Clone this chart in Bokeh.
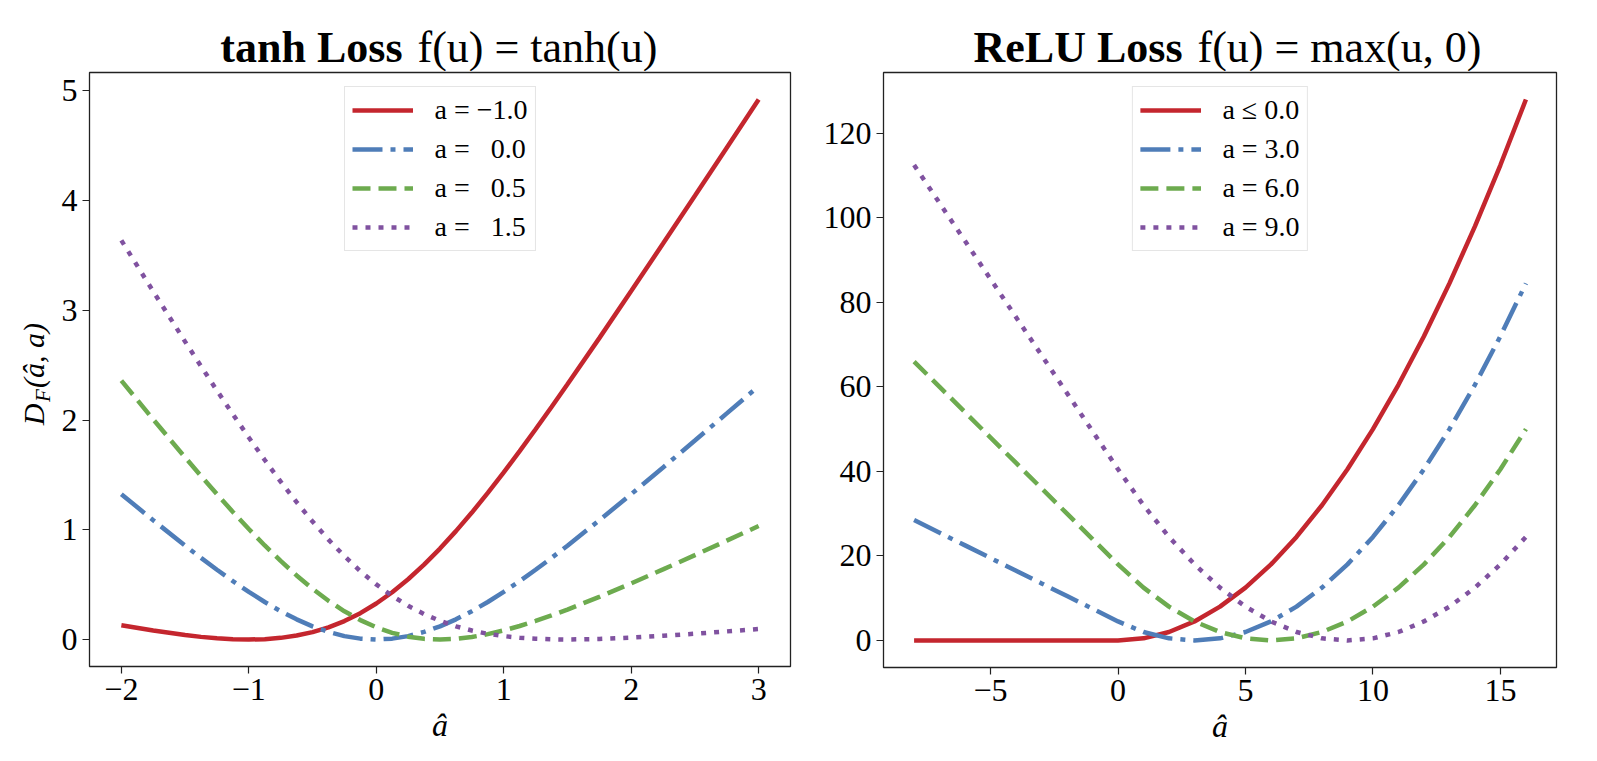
from bokeh.plotting import figure
from bokeh.layouts import row, column
from bokeh.models import Range1d, Label, FixedTicker, CustomJSTickFormatter
from bokeh.embed import file_html
from bokeh.resources import INLINE

FONT = "Liberation Serif"

# ---------------- data ----------------
tanh_x = [-2.0, -1.75, -1.5, -1.375, -1.25, -1.125, -1.0, -0.875, -0.75, -0.625, -0.5,
          -0.375, -0.25, -0.125, 0.0, 0.125, 0.25, 0.375, 0.5, 0.625, 0.75, 0.875, 1.0,
          1.125, 1.25, 1.375, 1.5, 1.75, 2.0, 2.25, 2.5, 2.75, 3.0]
tanh_a_m1 = [0.130, 0.082, 0.041, 0.024, 0.012, 0.003, 0.000, 0.003, 0.015, 0.036, 0.067,
             0.111, 0.168, 0.240, 0.328, 0.431, 0.549, 0.682, 0.829, 0.988, 1.157, 1.336,
             1.523, 1.717, 1.916, 2.119, 2.326, 2.747, 3.176, 3.609, 4.045, 4.483, 4.922]
tanh_a_0 = [1.325, 1.087, 0.855, 0.744, 0.636, 0.532, 0.434, 0.342, 0.258, 0.184, 0.120,
            0.069, 0.031, 0.008, 0.000, 0.008, 0.031, 0.069, 0.120, 0.184, 0.258, 0.342,
            0.434, 0.532, 0.636, 0.744, 0.855, 1.087, 1.325, 1.568, 1.814, 2.061, 2.309]
tanh_a_05 = [2.360, 2.006, 1.660, 1.490, 1.324, 1.163, 1.007, 0.857, 0.716, 0.584, 0.462,
             0.353, 0.257, 0.177, 0.111, 0.061, 0.026, 0.006, 0.000, 0.006, 0.023, 0.049,
             0.083, 0.123, 0.169, 0.219, 0.273, 0.389, 0.512, 0.639, 0.769, 0.901, 1.034]
tanh_a_15 = [3.638, 3.173, 2.715, 2.491, 2.269, 2.053, 1.841, 1.636, 1.439, 1.252, 1.075,
             0.910, 0.760, 0.623, 0.502, 0.397, 0.307, 0.232, 0.170, 0.120, 0.082, 0.052,
             0.031, 0.016, 0.007, 0.002, 0.000, 0.005, 0.017, 0.034, 0.053, 0.074, 0.096]
tanh_labels = ["a = \u22121.0", "a = \u20070.0", "a = \u20070.5", "a = \u20071.5"]

relu_x = [-8, -7, -6, -5, -4, -3, -2, -1, 0, 1, 2, 3, 4, 5, 6, 7, 8, 9, 10, 11, 12,
          13, 14, 15, 16]
relu_a0 = [0, 0, 0, 0, 0, 0, 0, 0, 0, 0.5, 2, 4.5, 8, 12.5, 18, 24.5, 32, 40.5, 50,
           60.5, 72, 84.5, 98, 112.5, 128]
relu_a3 = [28.5, 25.5, 22.5, 19.5, 16.5, 13.5, 10.5, 7.5, 4.5, 2, 0.5, 0, 0.5, 2, 4.5,
           8, 12.5, 18, 24.5, 32, 40.5, 50, 60.5, 72, 84.5]
relu_a6 = [66, 60, 54, 48, 42, 36, 30, 24, 18, 12.5, 8, 4.5, 2, 0.5, 0, 0.5, 2, 4.5, 8,
           12.5, 18, 24.5, 32, 40.5, 50]
relu_a9 = [112.5, 103.5, 94.5, 85.5, 76.5, 67.5, 58.5, 49.5, 40.5, 32, 24.5, 18, 12.5,
           8, 4.5, 2, 0.5, 0, 0.5, 2, 4.5, 8, 12.5, 18, 24.5]
relu_labels = ["a \u2264 0.0", "a = 3.0", "a = 6.0", "a = 9.0"]

tanh_xticks = [-2, -1, 0, 1, 2, 3]
tanh_yticks = [0, 1, 2, 3, 4, 5]
relu_xticks = [-5, 0, 5, 10, 15]
relu_yticks = [0, 20, 40, 60, 80, 100, 120]

titles = [("tanh Loss", "f(u) = tanh(u)"), ("ReLU Loss", "f(u) = max(u, 0)")]
ylabel_parts = ["D", "F", "(\u00e2, a)"]

# ---------------- styles ----------------
COLORS = ["#C4262E", "#4F7DB8", "#6DAB4F", "#8052A0"]
DASHES = ["solid", "30 8 5 8", "18 8", "5 8"]
LW = 4.5
HEADER_H = 71
TOTAL_W = 1589
STRIP_W = 54
PANEL_TOP = 1
PANEL_H = PANEL_TOP + 594 + 87

minus_fmt = CustomJSTickFormatter(code="""
    return tick < 0 ? "\\u2212" + Math.abs(tick) : tick.toString();
""")


def blank_fig(w, h):
    # data coordinates equal pixels, origin at bottom-left
    f = figure(frame_width=w, frame_height=h, x_range=Range1d(0, w), y_range=Range1d(0, h),
               output_backend="svg", toolbar_location=None, title_location=None,
               x_axis_type=None, y_axis_type=None,
               min_border_left=0, min_border_right=0, min_border_top=0,
               min_border_bottom=0,
               background_fill_color="white", border_fill_color="white")
    f.outline_line_color = None
    f.xgrid.visible = False
    f.ygrid.visible = False
    return f


def make_fig(xr, yr, fw, fh, bl, br, bt, bb, xticks, yticks):
    p = figure(frame_width=fw, frame_height=fh,
               x_range=Range1d(*xr), y_range=Range1d(*yr),
               output_backend="svg", toolbar_location=None,
               min_border_left=bl, min_border_right=br,
               min_border_top=bt, min_border_bottom=bb,
               background_fill_color="white", border_fill_color="white")
    p.xgrid.visible = False
    p.ygrid.visible = False
    p.outline_line_color = "#222222"
    p.outline_line_width = 1.3
    p.xaxis.ticker = FixedTicker(ticks=xticks)
    p.yaxis.ticker = FixedTicker(ticks=yticks)
    for ax in (p.xaxis[0], p.yaxis[0]):
        ax.formatter = minus_fmt
        ax.axis_line_color = None
        ax.minor_tick_line_color = None
        ax.major_tick_in = 0
        ax.major_tick_out = 7
        ax.major_tick_line_color = "#222222"
        ax.major_tick_line_width = 1.2
        ax.major_label_text_font = FONT
        ax.major_label_text_font_size = "32px"
        ax.major_label_text_color = "black"
        ax.major_label_standoff = 5
    p.xaxis.axis_label = "\u00e2"
    p.xaxis.axis_label_text_font = FONT
    p.xaxis.axis_label_text_font_style = "italic"
    p.xaxis.axis_label_text_font_size = "32px"
    p.xaxis.axis_label_text_color = "black"
    p.xaxis.axis_label_standoff = 4
    return p


def add_lines(p, xs, ys_list, labels):
    for ys, c, d, lab in zip(ys_list, COLORS, DASHES, labels):
        p.line(xs, ys, line_color=c, line_width=LW, line_dash=d, legend_label=lab)
    lg = p.legend[0]
    lg.location = "top_center"
    lg.label_text_font = FONT
    lg.label_text_font_size = "28px"
    lg.label_text_color = "black"
    lg.glyph_width = 61
    lg.glyph_height = 30
    lg.label_height = 30
    lg.spacing = 7
    lg.padding = 7
    lg.margin = 14
    lg.label_standoff = 22
    lg.border_line_color = "#cccccc"
    lg.border_line_width = 1.2
    lg.background_fill_alpha = 0.85


# ---------------- header with both titles ----------------
header = blank_fig(TOTAL_W, HEADER_H)
MID = HEADER_H - 46.5  # middle of the title line, 46.5 px below the page top
for (bold, math), xb, xm in zip(titles, (402, 1182), (417, 1197)):
    header.add_layout(Label(x=xb, y=MID, text=bold, text_font=FONT,
                            text_font_style="bold", text_font_size="44px",
                            text_color="black", text_align="right",
                            text_baseline="middle"))
    header.add_layout(Label(x=xm, y=MID, text=math, text_font=FONT,
                            text_font_size="44px", text_color="black",
                            text_align="left", text_baseline="middle"))

# ---------------- y-label strip ----------------
strip = blank_fig(STRIP_W, PANEL_H)
BOTTOM = HEADER_H + PANEL_H  # page y of the strip's bottom edge
for txt, x, py, size in zip(ylabel_parts, (33, 42, 33), (413, 394, 354),
                            ("30px", "21px", "30px")):
    strip.add_layout(Label(x=x, y=BOTTOM - py, text=txt, text_font=FONT,
                           text_font_style="italic", text_font_size=size,
                           text_color="black", angle=1.5707963,
                           text_align="center", text_baseline="middle"))

# ---------------- left: tanh ----------------
p1 = make_fig((-2.25, 3.25), (-0.246, 5.168), 701, 594, 89 - STRIP_W, 10, PANEL_TOP, 87,
              tanh_xticks, tanh_yticks)
add_lines(p1, tanh_x, [tanh_a_m1, tanh_a_0, tanh_a_05, tanh_a_15], tanh_labels)

# ---------------- right: ReLU ----------------
p2 = make_fig((-9.2, 17.2), (-6.4, 134.4), 673, 595, 83, 33, PANEL_TOP, 86,
              relu_xticks, relu_yticks)
add_lines(p2, relu_x, [relu_a0, relu_a3, relu_a6, relu_a9], relu_labels)

layout = column(header, row(strip, p1, p2))
open("out.html", "w").write(file_html(layout, INLINE))
